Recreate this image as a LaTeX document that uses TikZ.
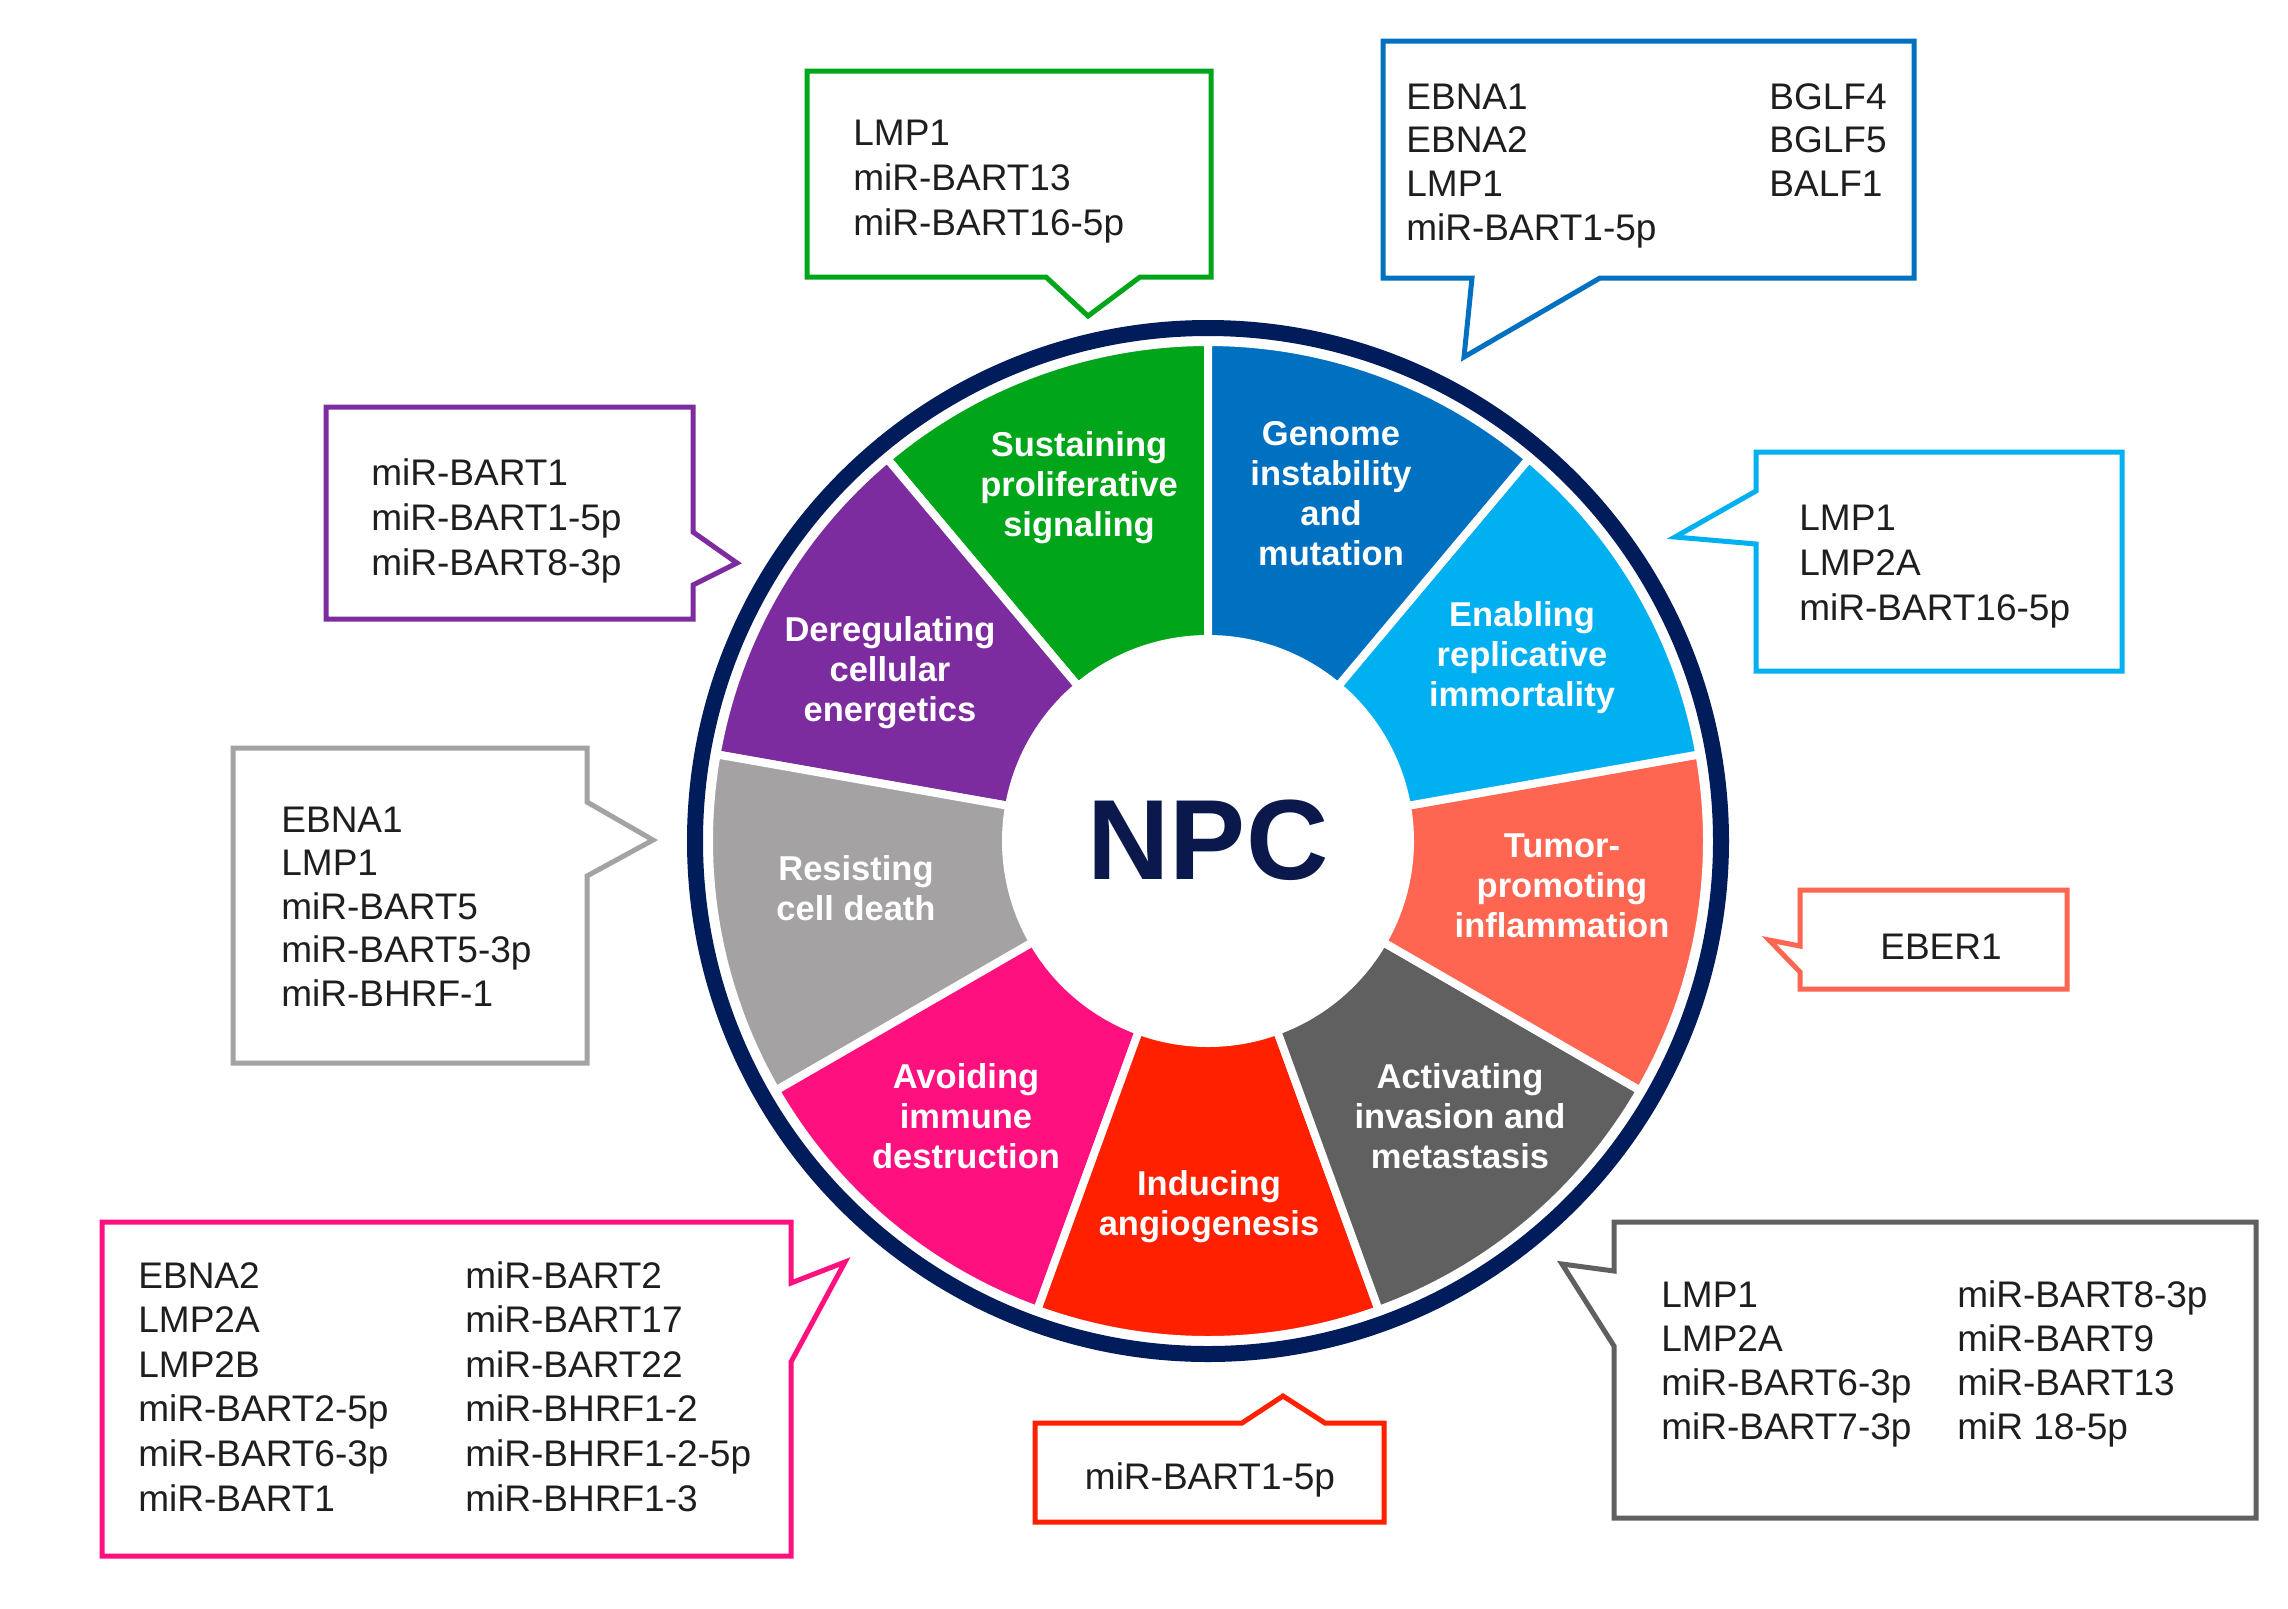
\documentclass[tikz,border=0pt]{standalone}
\usepackage{fontspec}
\setmainfont{Liberation Sans}
\definecolor{cgreen}{RGB}{0,165,25}
\definecolor{cblue}{RGB}{0,112,192}
\definecolor{clblue}{RGB}{0,176,240}
\definecolor{corange}{RGB}{255,102,82}
\definecolor{cdgray}{RGB}{96,96,96}
\definecolor{cred}{RGB}{255,32,0}
\definecolor{cpink}{RGB}{255,16,127}
\definecolor{cgray}{RGB}{165,162,163}
\definecolor{cpurple}{RGB}{124,44,158}
\definecolor{cnavy}{RGB}{0,28,90}
\definecolor{npcnavy}{RGB}{10,24,76}
\definecolor{ctxt}{RGB}{30,30,30}
\begin{document}
\begin{tikzpicture}[x=0.5pt,y=-0.5pt,
  bubble/.style={line width=2.5pt, fill=white, line join=miter, miter limit=10},
  ct/.style={font=\fontsize{18.5}{22}\selectfont, text=ctxt, inner sep=0pt, anchor=base west},
  seglabel/.style={font=\bfseries\fontsize{17.25}{20}\selectfont, text=white, align=center, inner sep=0pt},
  sector/.style={draw=white, line width=4pt, line join=miter}]
\path[use as bounding box, fill=white] (0,0) rectangle (2288,1608);

% ---- wheel ----
\begin{scope}[shift={(1208,841)}, y=0.5pt]
\foreach \a/\c in {90/cgreen, 130/cpurple, 170/cgray, 210/cpink, 250/cred, 290/cdgray, 330/corange, 10/clblue, 50/cblue}{
  \pgfmathsetmacro{\b}{\a+40}
  \filldraw[sector, fill=\c] (\a:202) -- (\a:499) arc[start angle=\a, end angle=\b, radius=499] -- (\b:202) arc[start angle=\b, end angle=\a, radius=202] -- cycle;
}
\draw[cnavy, line width=8pt] (0,0) circle[radius=513];
\end{scope}

\node[font=\bfseries\fontsize{57}{60}\selectfont, text=npcnavy, inner sep=0pt] (npc) at (1208,840) {NPC};

\node[seglabel] (s1) at (1079,488) {Sustaining\\proliferative\\signaling};
\node[seglabel] (s2) at (1331,494) {Genome\\instability\\and\\mutation};
\node[seglabel] (s3) at (1522,658) {Enabling\\replicative\\immortality};
\node[seglabel] (s4) at (1562,886) {Tumor-\\promoting\\inflammation};
\node[seglabel] (s5) at (1460,1116) {Activating\\invasion and\\metastasis};
\node[seglabel] (s6) at (1209,1207) {Inducing\\angiogenesis};
\node[seglabel] (s7) at (966,1116) {Avoiding\\immune\\destruction};
\node[seglabel] (s8) at (856,888) {Resisting\\cell death};
\node[seglabel] (s9) at (890,673) {Deregulating\\cellular\\energetics};

% ---- callouts ----
\draw[bubble, draw=cgreen] (807,71) -- (1211,71) -- (1211,277) -- (1140,277) -- (1088,316) -- (1046,277) -- (807,277) -- cycle;
\draw[bubble, draw=cblue] (1383,41) -- (1914,41) -- (1914,278) -- (1600,278) -- (1464,357) -- (1472,278) -- (1383,278) -- cycle;
\draw[bubble, draw=cpurple] (326,407) -- (693,407) -- (693,532) -- (737,563) -- (693,585) -- (693,619) -- (326,619) -- cycle;
\draw[bubble, draw=cgray] (233,748) -- (587,748) -- (587,802) -- (653,840) -- (587,876) -- (587,1063) -- (233,1063) -- cycle;
\draw[bubble, draw=cpink] (102,1222) -- (791,1222) -- (791,1283) -- (845,1262) -- (791,1362) -- (791,1556) -- (102,1556) -- cycle;
\draw[bubble, draw=cred] (1035,1423) -- (1242,1423) -- (1283,1396) -- (1325,1423) -- (1384,1423) -- (1384,1522) -- (1035,1522) -- cycle;
\draw[bubble, draw=cdgray] (1614,1222) -- (2256,1222) -- (2256,1518) -- (1614,1518) -- (1614,1346) -- (1562,1264) -- (1614,1271) -- cycle;
\draw[bubble, draw=clblue] (1756,452) -- (2122,452) -- (2122,671) -- (1756,671) -- (1756,544) -- (1675,537) -- (1756,491) -- cycle;
\draw[bubble, draw=corange] (1800,890) -- (2067,890) -- (2067,989) -- (1800,989) -- (1800,972) -- (1769,940) -- (1800,946) -- cycle;

% ---- callout texts ----
\foreach \t [count=\i from 0] in {LMP1, miR-BART13, miR-BART16-5p}
  \node[ct] (g\i) at (853,145+45*\i) {\t};
\foreach \t [count=\i from 0] in {EBNA1, EBNA2, LMP1, miR-BART1-5p}
  \node[ct] (ta\i) at (1406,109+43.7*\i) {\t};
\foreach \t [count=\i from 0] in {BGLF4, BGLF5, BALF1}
  \node[ct] (tb\i) at (1769,109+43.7*\i) {\t};
\foreach \t [count=\i from 0] in {miR-BART1, miR-BART1-5p, miR-BART8-3p}
  \node[ct] (pu\i) at (371,485+45*\i) {\t};
\foreach \t [count=\i from 0] in {EBNA1, LMP1, miR-BART5, miR-BART5-3p, miR-BHRF-1}
  \node[ct] (gr\i) at (281,832+43.5*\i) {\t};
\foreach \t [count=\i from 0] in {EBNA2, LMP2A, LMP2B, miR-BART2-5p, miR-BART6-3p, miR-BART1}
  \node[ct] (pa\i) at (138,1288+44.6*\i) {\t};
\foreach \t [count=\i from 0] in {miR-BART2, miR-BART17, miR-BART22, miR-BHRF1-2, miR-BHRF1-2-5p, miR-BHRF1-3}
  \node[ct] (pb\i) at (465,1288+44.6*\i) {\t};
\foreach \t [count=\i from 0] in {LMP1, LMP2A, miR-BART6-3p, miR-BART7-3p}
  \node[ct] (da\i) at (1661,1307+44.3*\i) {\t};
\foreach \t [count=\i from 0] in {miR-BART8-3p, miR-BART9, miR-BART13, miR 18-5p}
  \node[ct] (db\i) at (1957,1307+44.3*\i) {\t};
\foreach \t [count=\i from 0] in {LMP1, LMP2A, miR-BART16-5p}
  \node[ct] (lb\i) at (1799,530+45*\i) {\t};
\node[ct, anchor=base] (rd) at (1210,1489) {miR-BART1-5p};
\node[ct, anchor=base] (or) at (1941,959) {EBER1};
\end{tikzpicture}
\end{document}
